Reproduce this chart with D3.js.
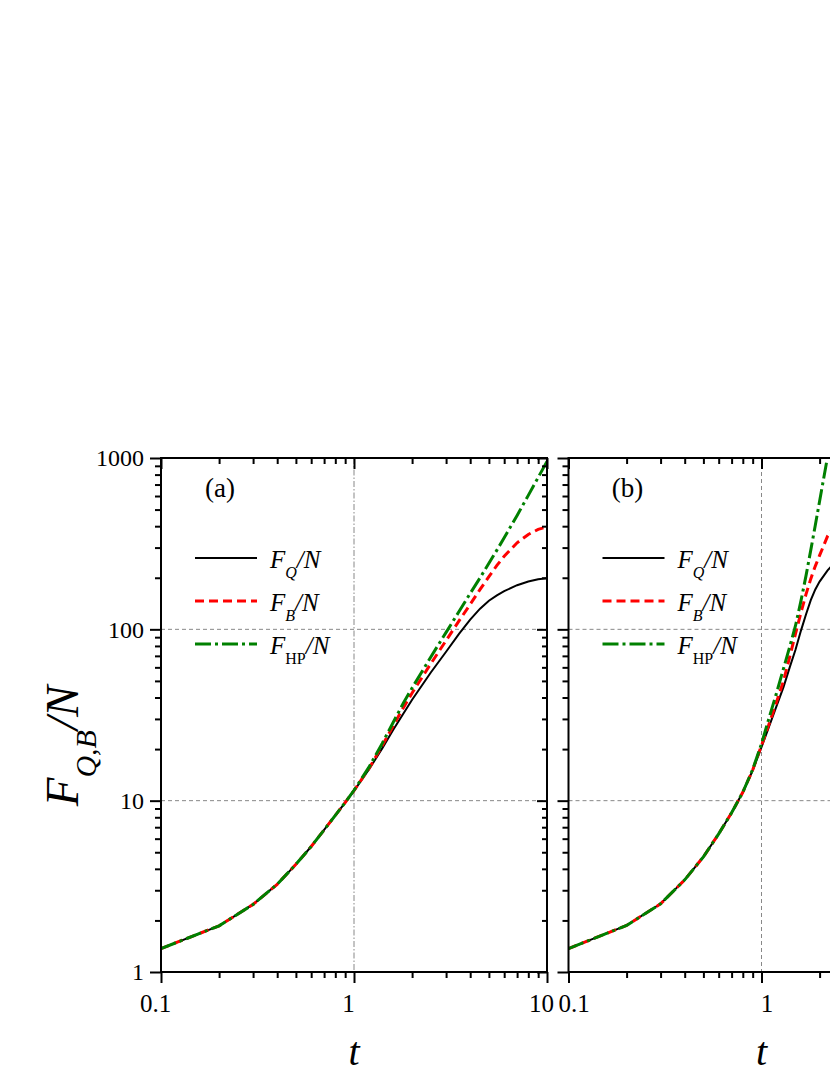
<!DOCTYPE html>
<html>
<head>
<meta charset="utf-8">
<script src="https://cdn.jsdelivr.net/npm/d3@7"></script>
<style>
body { margin: 0; background: #fff; }
svg { display: block; }
</style>
</head>
<body>
<script>
// panel (a) values
var tA = [0.1, 0.2, 0.3, 0.4, 0.5, 0.6, 0.7, 0.8, 0.9, 1.0, 1.2, 1.4, 1.6, 1.8, 2.0, 2.5, 3.0, 3.5, 4.0, 4.5, 5, 5.5, 6, 7, 8, 9, 10];
var fqA = [1.37, 1.86, 2.48, 3.25, 4.25, 5.4, 6.75, 8.2, 9.75, 11.4, 15.3, 20.2, 26, 32.2, 38.8, 56, 74, 94, 114, 132, 147, 158, 167, 181, 190, 196, 199];
var fbA = [1.37, 1.86, 2.48, 3.25, 4.25, 5.4, 6.75, 8.2, 9.75, 11.45, 15.5, 20.9, 27.5, 34.8, 42.5, 63, 86, 112, 140, 171, 203, 236, 267, 320, 358, 383, 396];
var fhpA = [1.37, 1.86, 2.48, 3.25, 4.25, 5.4, 6.75, 8.2, 9.75, 11.5, 15.8, 21.6, 28.8, 37, 45.5, 69, 96, 127, 162, 200, 243, 290, 342, 462, 605, 770, 955];

// panel (b) values
var tB = [0.1, 0.2, 0.3, 0.4, 0.5, 0.6, 0.7, 0.8, 0.9, 1.0, 1.1, 1.2, 1.3, 1.4, 1.5, 1.6, 1.7, 1.8, 1.9, 2.0, 2.2, 2.4, 2.6];
var fqB = [1.37, 1.87, 2.5, 3.45, 4.7, 6.4, 8.5, 11.2, 15, 20.5, 27.5, 36, 46, 60, 76, 98, 122, 148, 171, 190, 221, 245, 262];
var fbB = [1.37, 1.87, 2.5, 3.45, 4.7, 6.4, 8.5, 11.2, 15.1, 21, 28.5, 38, 50, 69, 94, 125, 160, 197, 234, 270, 350, 400, 440];
var fhpB = [1.37, 1.87, 2.5, 3.45, 4.7, 6.4, 8.5, 11.2, 15.2, 21.5, 31, 43, 59, 79, 105, 146, 205, 290, 405, 560, 1020, 1700, 2700];

// ticks
var xMajor = [0.1, 1, 10];
var xMinor = [0.2, 0.3, 0.4, 0.5, 0.6, 0.7, 0.8, 0.9, 2, 3, 4, 5, 6, 7, 8, 9];
var yMajor = [1, 10, 100, 1000];
var yMinor = [2, 3, 4, 5, 6, 7, 8, 9, 20, 30, 40, 50, 60, 70, 80, 90, 200, 300, 400, 500, 600, 700, 800, 900];
var gridY = [10, 100];
var gridX = [1];
var seriesSubs = ["Q", "B", "HP"];

var serif = "'Liberation Serif', 'Times New Roman', serif";
var colors = ["#000000", "#ff0000", "#008000"];
var dashes = [null, "9,5", "16,4,3,4"];
var widths = [2, 3, 3];

var W = 830, H = 1075;
var plotTop = 458, plotBottom = 972, plotW = 386;

var svg = d3.select("body")
    .append("svg")
    .attr("width", W)
    .attr("height", H);

var panels = [
    { x0: 161, name: "(a)", t: tA, series: [fqA, fbA, fhpA], yLabels: true, vDash: "6,2,1.5,2", labelDx: -6 },
    { x0: 568.5, name: "(b)", t: tB, series: [fqB, fbB, fhpB], yLabels: false, vDash: "4,3", labelDx: 5 }
];

panels.forEach(function(p, pi) {
    var x = d3.scaleLog().domain([0.1, 10]).range([p.x0, p.x0 + plotW]);
    var y = d3.scaleLog().domain([1, 1000]).range([plotBottom, plotTop]);
    var g = svg.append("g");

    g.append("clipPath")
        .attr("id", "clip" + pi)
        .append("rect")
        .attr("x", p.x0)
        .attr("y", plotTop)
        .attr("width", plotW)
        .attr("height", plotBottom - plotTop);

    // grid
    g.selectAll(".gy")
        .data(gridY)
        .enter().append("line")
        .attr("x1", p.x0).attr("x2", p.x0 + plotW)
        .attr("y1", function(d) { return y(d); })
        .attr("y2", function(d) { return y(d); })
        .attr("stroke", "#888").attr("stroke-width", 1)
        .attr("stroke-dasharray", "4,3");
    g.selectAll(".gx")
        .data(gridX)
        .enter().append("line")
        .attr("x1", function(d) { return x(d); })
        .attr("x2", function(d) { return x(d); })
        .attr("y1", plotTop).attr("y2", plotBottom)
        .attr("stroke", "#888").attr("stroke-width", 1)
        .attr("stroke-dasharray", p.vDash);

    // curves
    var line = d3.line()
        .x(function(d) { return x(d[0]); })
        .y(function(d) { return y(d[1]); });
    var lines = g.append("g").attr("clip-path", "url(#clip" + pi + ")");
    p.series.forEach(function(vals, si) {
        lines.append("path")
            .datum(d3.zip(p.t, vals))
            .attr("fill", "none")
            .attr("stroke", colors[si])
            .attr("stroke-width", widths[si])
            .attr("stroke-dasharray", dashes[si])
            .attr("d", line);
    });

    // axes
    function axis(make, scale, vals, len, pos, fmt, pad) {
        var a = make(scale).tickValues(vals).tickSize(len).tickSizeOuter(0).tickPadding(pad || 3)
            .tickFormat(fmt || "");
        var ag = g.append("g").attr("transform", pos).call(a);
        ag.select(".domain").remove();
        ag.selectAll(".tick line").attr("stroke-width", 2);
        ag.selectAll("text").attr("font-family", serif).attr("fill", "#000");
        return ag;
    }
    var bot = "translate(0," + plotBottom + ")",
        topT = "translate(0," + plotTop + ")",
        left = "translate(" + p.x0 + ",0)",
        right = "translate(" + (p.x0 + plotW) + ",0)";

    // labels only for ticks that land on the page
    axis(d3.axisBottom, x, xMinor, 6, bot);
    axis(d3.axisBottom, x, xMajor.filter(function(d) { return x(d) < W; }), 11, bot,
        function(d) { return String(d); }, 11)
        .selectAll("text").attr("font-size", 25).attr("dx", p.labelDx);
    axis(d3.axisTop, x, xMinor, -6, topT);
    axis(d3.axisTop, x, xMajor, -11, topT);
    axis(d3.axisLeft, y, yMinor, 6, left);
    var yl = axis(d3.axisLeft, y, yMajor, 11, left, p.yLabels ? function(d) { return String(d); } : "", 6);
    yl.selectAll("text").attr("font-size", 24);
    axis(d3.axisRight, y, yMinor, -5, right);
    axis(d3.axisRight, y, yMajor, -10, right);

    g.append("rect")
        .attr("x", p.x0).attr("y", plotTop)
        .attr("width", plotW).attr("height", plotBottom - plotTop)
        .attr("fill", "none").attr("stroke", "#000").attr("stroke-width", 2);

    // panel label
    g.append("text")
        .attr("x", p.x0 + 59).attr("y", plotTop + 39)
        .attr("text-anchor", "middle")
        .attr("font-family", serif).attr("font-size", 27)
        .text(p.name);

    // legend
    var leg = g.selectAll(".leg")
        .data(seriesSubs)
        .enter().append("g")
        .attr("transform", function(d, i) {
            return "translate(" + p.x0 + "," + (plotTop + 100 + i * 43) + ")";
        });
    leg.append("line")
        .attr("x1", 34).attr("x2", 96)
        .attr("stroke", function(d, i) { return colors[i]; })
        .attr("stroke-width", function(d, i) { return widths[i]; })
        .attr("stroke-dasharray", function(d, i) { return dashes[i]; });
    var lt = leg.append("text")
        .attr("x", 109).attr("y", 10)
        .attr("font-family", serif).attr("font-size", 25)
        .attr("font-style", "italic");
    lt.append("tspan").text("F");
    lt.append("tspan")
        .attr("dy", 10).attr("font-size", 16)
        .attr("font-style", function(d) { return d === "HP" ? "normal" : "italic"; })
        .text(function(d) { return d; });
    lt.append("tspan").attr("dy", -10).text("/N");

    // x title
    g.append("text")
        .attr("x", x(1)).attr("y", 1065)
        .attr("text-anchor", "middle")
        .attr("font-family", serif).attr("font-size", 40)
        .attr("font-style", "italic")
        .text("t");
});

// y title
var yt = svg.append("text")
    .attr("transform", "translate(78,746) rotate(-90)")
    .attr("text-anchor", "middle")
    .attr("font-family", serif).attr("font-size", 47)
    .attr("font-style", "italic");
yt.append("tspan").text("F");
yt.append("tspan").attr("dy", 18).attr("font-size", 30).text("Q,B");
yt.append("tspan").attr("dy", -18).text("/N");
</script>
</body>
</html>
